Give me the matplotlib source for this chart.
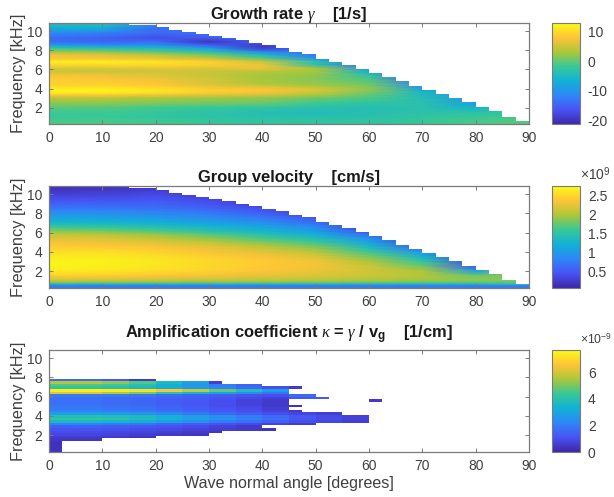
import numpy as np
import matplotlib
matplotlib.use("Agg")
import matplotlib.pyplot as plt
from matplotlib.colors import LinearSegmentedColormap
from matplotlib.patches import Polygon

plt.rcParams['font.family'] = ['Liberation Sans', 'DejaVu Sans']
plt.rcParams['mathtext.fontset'] = 'custom'
plt.rcParams['mathtext.rm'] = 'Liberation Sans'
plt.rcParams['mathtext.bf'] = 'Liberation Sans:bold'
plt.rcParams['mathtext.it'] = 'Liberation Serif:italic'
plt.rcParams['mathtext.fallback'] = 'stix'

PARULA = [(.2422, .1504, .6603), (.2810, .3228, .9579), (.1786, .5289, .9682), (.0689, .6948, .8394),
          (.2161, .7843, .5923), (.6720, .7793, .2227), (.9970, .7659, .2199), (.9769, .9839, .0805)]
cmap = LinearSegmentedColormap.from_list('parula', PARULA, N=256)
cmap.set_bad((1, 1, 1, 0))

ANGLE_NODES = [0, 10, 20, 30, 40, 50, 60, 70, 80, 90]
FREQ_ROWS = [10.85, 10.3, 9.8, 9.3, 8.9, 8.5, 8.2, 7.8, 7.5, 7.1, 6.8, 6.5, 6.1, 5.8, 5.4, 5.0, 4.6, 4.3,
             3.9, 3.6, 3.3, 3.0, 2.5, 2.0, 1.5, 1.05, 0.85, 0.65, 0.45, 0.25]
# top frequency of each 2.5-degree column
TOP_EDGE = [10.85]*6 + [10.68, 10.68, 10.43, 10.15, 9.94, 9.73, 9.49, 9.28, 9.03, 8.79, 8.51, 8.23, 7.85, 7.6,
            7.11, 6.77, 6.49, 6.07, 5.62, 5.2, 4.75, 4.32, 3.9, 3.45, 3.03, 2.57, 2.12, 1.7, 1.08, 0.66]

GROWTH = [
 [-3, -3, -11, -13, -13, -13, -14, -14, -14, -2],
 [-7, -7, -14, -14, -13, -13, -14],
 [-11, -12, -14, -14, -14, -13, -14],
 [-14, -15, -17, -15, -14, -13, -14],
 [-14, -15, -14, -20, -14, -13, -14],
 [-8, -10, -10, -15, -19, -13, -14],
 [-2, -4, -5, -9, -19, -13, -14],
 [3, 2, 0, -3, -11, -14, -14],
 [7, 6, 4, 1, -5, -13, -14],
 [8, 8, 7, 5, 0, -10, -14],
 [12, 12, 11, 9, 5, -3, -14],
 [10, 10, 10, 9, 7, -4, -14],
 [6, 6, 7, 6, 7, 3, -10, -14],
 [4.5, 4.5, 5, 5, 4, 3, -7, -15],
 [7.5, 7, 6, 4.5, 3, 2, -3, -16],
 [9, 8, 7, 5.5, 3, 1.5, -1, -16],
 [9, 9, 8, 5.5, 3, 2, 0, -12],
 [9.5, 9.5, 8.5, 6.5, 5, 3, 1, -10],
 [12, 12, 11, 9, 8, 6, 2, -8, -12],
 [12, 12, 11, 9, 8, 5, 1, -5, -11],
 [8, 8, 7, 6, 5, 3, 0, -5, -10],
 [4, 4, 3, 2.5, 2, 0.5, -1, -4, -10],
 [2, 2, 1.5, 1, 0.5, -1.5, -2.5, -3.5, -9],
 [-0.5, -0.5, -1.5, -2, -2.5, -3.5, -4, -3.5, -6, -3],
 [-1.5, -1.5, -2, -3, -4, -4.5, -4, -3, -3, -2],
 [-2, -2, -2.5, -3, -3.5, -3.5, -3.5, -2.5, -2, -1],
 [-1.5, -1.5, -2, -2.5, -3, -3, -3, -2, -1.5, -1],
 [-1, -1, -1.5, -2, -2.5, -2.5, -2.5, -2, -1, -0.5],
 [-1, -1, -1.5, -2, -2.5, -2.5, -2.5, -2, -1, -0.5],
 [-1, -1, -1.5, -2, -2.5, -2.5, -2.5, -2, -1, -0.5],
]
VELOCITY = [
 [.12, .15, .22, .25, .25, .25, .25, .25, .25, 1.9],
 [.22, .24, .3, .25, .25, .25, .25, .25, .25, 1.9],
 [.33, .35, .4, .3, .25, .25, .25, .25, .25, 1.9],
 [.47, .48, .5, .4, .25, .25, .25, .25, .25, 1.9],
 [.58, .6, .58, .48, .3, .25, .25, .25, .25, 1.9],
 [.72, .72, .68, .58, .42, .25, .25, .25, .25, 1.9],
 [.85, .83, .78, .68, .5, .25, .25, .25, .25, 1.9],
 [1.0, .98, .92, .8, .62, .35, .25, .25, .25, 1.9],
 [1.12, 1.1, 1.03, .9, .75, .48, .25, .25, .25, 1.9],
 [1.28, 1.25, 1.18, 1.05, .9, .6, .25, .25, .25, 1.9],
 [1.45, 1.42, 1.32, 1.18, 1.02, .75, .25, .25, .25, 1.9],
 [1.65, 1.6, 1.5, 1.33, 1.15, .9, .3, .25, .25, 1.9],
 [1.9, 1.85, 1.7, 1.5, 1.3, 1.05, .45, .25, .25, 1.9],
 [2.1, 2.05, 1.92, 1.7, 1.48, 1.22, .65, .25, .25, 1.9],
 [2.22, 2.2, 2.08, 1.9, 1.65, 1.4, .9, .25, .25, 1.9],
 [2.33, 2.3, 2.22, 2.08, 1.85, 1.6, 1.1, .35, .25, 1.9],
 [2.42, 2.4, 2.33, 2.22, 2.05, 1.8, 1.3, .5, .25, 1.9],
 [2.5, 2.48, 2.42, 2.3, 2.15, 1.92, 1.45, .7, .25, 1.9],
 [2.58, 2.58, 2.5, 2.38, 2.25, 2.08, 1.65, 1.0, .3, 1.9],
 [2.63, 2.62, 2.55, 2.44, 2.32, 2.17, 1.78, 1.2, .3, 1.9],
 [2.67, 2.66, 2.6, 2.5, 2.38, 2.25, 1.9, 1.4, .35, 1.9],
 [2.7, 2.7, 2.62, 2.52, 2.42, 2.32, 2.0, 1.55, .4, 1.9],
 [2.7, 2.68, 2.62, 2.52, 2.42, 2.32, 2.12, 1.8, .5, 1.9],
 [2.65, 2.62, 2.55, 2.47, 2.38, 2.28, 2.16, 2.0, 1.1, 1.9],
 [2.45, 2.42, 2.38, 2.32, 2.26, 2.2, 2.12, 2.03, 1.8, 1.9],
 [2.15, 2.15, 2.12, 2.1, 2.08, 2.05, 2.0, 1.95, 1.9, 1.85],
 [1.95, 1.95, 1.92, 1.9, 1.9, 1.88, 1.85, 1.8, 1.75, 1.75],
 [1.4, 1.4, 1.4, 1.4, 1.4, 1.4, 1.4, 1.4, 1.4, 1.6],
 [.75, .75, .75, .75, .75, .75, .75, .75, .75, .75],
 [.75, .75, .75, .75, .75, .75, .75, .75, .75, .75],
]

KAPPA_EDGES = [0.25, 1.4, 1.67, 1.94, 2.21, 2.48, 2.75, 3.02, 3.29, 3.56, 3.83, 4.1, 4.37, 4.64, 4.91, 5.18,
               5.45, 5.72, 5.99, 6.26, 6.53, 6.8, 7.07, 7.34, 7.61, 7.8]
KAPPA_END = [2.5, 10, 20, 30, 32.5, 42.5, 40, 50, 60, 60, 60, 55, 47.5, 45, 47.5, 45, 45, 52.5, 50, 45, 45, 47.5, 40, 32.5, 20]
# values per 5-degree column, 0 to 60, bottom row first
KAPPA = [
 [.3],
 [.4, .4],
 [.55, .55, .5, .4],
 [.8, .8, .7, .6, .5, .4],
 [.95, .9, .85, .75, .65, .5, .4],
 [1.1, 1.1, 1.05, .95, .85, .7, .6, .5, .35],
 [1.4, 1.4, 1.3, 1.2, 1.1, .9, .7, .5],
 [2.1, 2.1, 2, 1.8, 1.5, 1.3, 1.1, .9, .7, .5],
 [3.5, 3.5, 3.4, 3.2, 2.8, 2.4, 2, 1.7, 1.4, 1, .8, .6],
 [4.2, 4.2, 4.1, 3.8, 3.4, 3, 2.5, 2.1, 1.7, 1.2, .9, .7],
 [3.9, 3.9, 3.8, 3.6, 3.3, 2.8, 2.4, 2, 1.6, 1.2, .9, .7],
 [2.8, 2.8, 2.7, 2.5, 2.2, 1.9, 1.6, 1.3, 1, .8, .6],
 [2.1, 2.1, 2, 1.9, 1.7, 1.5, 1.2, 1, .7, .5],
 [1.9, 1.9, 1.8, 1.7, 1.5, 1.3, 1.1, .9, .6, .4],
 [1.8, 1.8, 1.7, 1.6, 1.4, 1.2, 1, .8, .5, .3],
 [1.7, 1.7, 1.6, 1.5, 1.3, 1.2, 1, .7, .5],
 [1.7, 1.7, 1.6, 1.5, 1.3, 1.2, 1, .7, .5, None, None, None, .5],
 [1.7, 1.7, 1.6, 1.5, 1.4, 1.3, 1.1, .9, .7, 1.2, 1.3],
 [2.0, 2.0, 1.9, 1.8, 1.6, 1.4, 1.3, 1.1, 1, 1.6],
 [6.2, 6.2, 5.6, 5, 4, 3.4, 2.9, 2.4, 1.9],
 [7.4, 7.4, 7.3, 7.1, 6.6, 5.8, 4.8, 3.8, 2.8],
 [4.2, 4.2, 4, 3.6, 3.2, 2.7, 2.1, 1.6, 1, .5],
 [4.6, 4.6, 4.4, 4, 3.2, 2.6, 2, 1.4],
 [5.6, 5.6, 5.2, 4.6, 3.6, 2.8, .6],
 [1.6, 1.6, 1.2, .5],
]

XTICKS = [0, 10, 20, 30, 40, 50, 60, 70, 80, 90]
YTICKS = [2, 4, 6, 8, 10]
TITLES = [r"Growth rate $\gamma$    [1/s]", "Group velocity    [cm/s]",
          r"Amplification coefficient $\kappa$ = $\gamma$ / v$_{\mathbf{g}}$    [1/cm]"]
TITLE_PAD = [3.2, 3.2, 8.3]
CB_TICKS = [[-20, -10, 0, 10], [.5, 1, 1.5, 2, 2.5], [0, 2, 4, 6]]
CB_LIMS = [(-21.3, 12.9), (0.06, 2.76), (0, 7.65)]
CB_OFFSET = [None, r"$\times$10$^{9}$", "$\\times$10$^{\\mathrm{-}9}$"]
CB_OFFSET_SIZE = [10, 10, 8.8]

W, H = 614, 497
TOPS = [23, 186, 350]
BOTTOMS = [124.5, 288, 452]
GRAY = '#404040'
SPINE = '#7a7a7a'

fig = plt.figure(figsize=(W/100, H/100), dpi=100)


def full(rows):
    return np.array([r + [r[-1]]*(len(ANGLE_NODES)-len(r)) for r in rows], float)


for i in range(3):
    ax = fig.add_axes([49/W, 1-BOTTOMS[i]/H, 480/W, (BOTTOMS[i]-TOPS[i])/H])
    vmin, vmax = CB_LIMS[i]
    if i < 2:
        z = full(GROWTH if i == 0 else VELOCITY)
        m = ax.pcolormesh(ANGLE_NODES, FREQ_ROWS, z, shading='gouraud', cmap=cmap, vmin=vmin, vmax=vmax)
        xe = np.linspace(0, 90, len(TOP_EDGE)+1)
        poly = [(0, 0.25)]
        for j, t in enumerate(TOP_EDGE):
            poly += [(xe[j], t), (xe[j+1], t)]
        poly.append((90, 0.25))
        patch = Polygon(poly, closed=True, transform=ax.transData, fc='none', ec='none')
        ax.add_patch(patch)
        m.set_clip_path(patch)
    else:
        xe = np.arange(0, 65.1, 2.5)
        z = np.full((len(KAPPA), len(xe)-1), np.nan)
        for r, row in enumerate(KAPPA):
            for c, v in enumerate(row):
                if v is not None:
                    z[r, 2*c:2*c+2] = v
            z[r, xe[:-1] >= KAPPA_END[r]] = np.nan
        # keep the isolated short segment near 60 degrees
        z[16, 24] = .5
        z[16, 25] = np.nan
        m = ax.pcolormesh(xe, KAPPA_EDGES, np.ma.masked_invalid(z), cmap=cmap, vmin=vmin, vmax=vmax)
    ax.set_xlim(0, 90)
    ax.set_ylim(0.25, 10.85)
    ax.set_xticks(XTICKS)
    ax.set_yticks(YTICKS)
    ax.tick_params(direction='in', top=True, right=True, length=3.2, width=0.7, color=SPINE,
                   labelsize=10, labelcolor=GRAY, pad=5)
    for s in ax.spines.values():
        s.set_color(SPINE)
        s.set_linewidth(0.9)
    ax.set_ylabel("Frequency [kHz]", fontsize=11.8, color=GRAY, labelpad=0.5)
    ax.set_title(TITLES[i], fontsize=11.9, fontweight='bold', color='#1a1a1a', pad=TITLE_PAD[i])
    if i == 2:
        ax.set_xlabel("Wave normal angle [degrees]", fontsize=11.6, color=GRAY, labelpad=2.5)

    cax = fig.add_axes([552/W, 1-BOTTOMS[i]/H, 27.5/W, (BOTTOMS[i]-TOPS[i])/H])
    cb = fig.colorbar(m, cax=cax)
    cb.set_ticks(CB_TICKS[i])
    cb.set_ticklabels([f"{t:g}" for t in CB_TICKS[i]])
    cb.ax.tick_params(length=0, labelsize=10, labelcolor=GRAY, pad=6)
    cb.outline.set_edgecolor(SPINE)
    cb.outline.set_linewidth(0.8)
    if CB_OFFSET[i]:
        cax.text(1.03, 1.03, CB_OFFSET[i], transform=cax.transAxes, fontsize=CB_OFFSET_SIZE[i], color=GRAY,
                 va='bottom', ha='left')

fig.savefig("out.png", dpi=100)
